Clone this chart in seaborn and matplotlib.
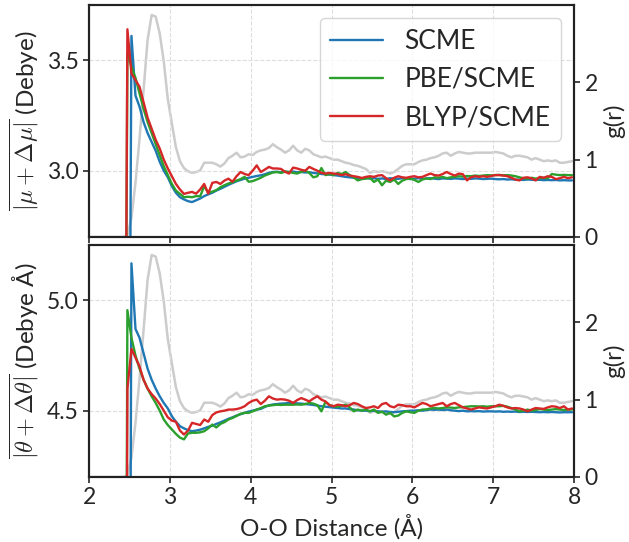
import numpy as np
import matplotlib
matplotlib.use("Agg")
import matplotlib.pyplot as plt
import seaborn as sns

# =========================
# DATA
# =========================

# O-O distance bin centres, 0.05 A bins from 2.0 to 8.0
r = np.arange(2.025, 8.0, 0.05)

# radial distribution function g(r)
g_r = [0.0, 0.0, 0.0, 0.0, 0.0, 0.0, 0.0, 0.0, 0.0, 0.02,
       0.25, 0.7, 1.27, 1.9, 2.55, 2.87, 2.85, 2.63, 2.27, 1.78,
       1.47, 1.16, 0.98, 0.89, 0.85, 0.83, 0.84, 0.86, 0.96, 0.96,
       0.96, 0.94, 0.91, 0.95, 1.02, 1.05, 1.09, 1.03, 1.04, 1.07,
       1.06, 1.10, 1.12, 1.13, 1.15, 1.20, 1.16, 1.13, 1.09, 1.12,
       1.18, 1.12, 1.09, 1.14, 1.12, 1.07, 1.05, 1.03, 1.04, 1.02,
       1.00, 1.00, 0.98, 0.96, 0.95, 0.93, 0.92, 0.90, 0.88, 0.83,
       0.85, 0.84, 0.85, 0.84, 0.82, 0.84, 0.88, 0.92, 0.94, 0.94,
       0.94, 0.97, 0.99, 1.00, 1.02, 1.03, 1.05, 1.08, 1.09, 1.05,
       1.08, 1.10, 1.09, 1.08, 1.08, 1.09, 1.09, 1.09, 1.09, 1.09,
       1.10, 1.09, 1.08, 1.05, 1.03, 1.05, 1.05, 1.04, 1.03, 1.00,
       1.02, 1.00, 0.98, 0.99, 0.98, 0.99, 0.96, 0.96, 0.97, 0.98]

# dipole |mu + dmu| (Debye)
mu_scme = [0.0, 0.0, 0.0, 0.0, 0.0, 0.0, 0.0, 0.0, 0.0, 0.0,
           3.61, 3.34, 3.29, 3.22, 3.17, 3.13, 3.09, 3.04, 3.00, 2.97,
           2.93, 2.90, 2.88, 2.87, 2.862, 2.858, 2.866, 2.874, 2.885, 2.893,
           2.900, 2.910, 2.918, 2.927, 2.936, 2.944, 2.952, 2.958, 2.964, 2.968,
           2.972, 2.976, 2.979, 2.984, 2.990, 2.994, 2.995, 2.993, 2.995, 2.994,
           2.996, 2.993, 2.994, 2.992, 2.993, 2.990, 2.988, 2.985, 2.984, 2.982,
           2.980, 2.978, 2.975, 2.972, 2.970, 2.968, 2.966, 2.965, 2.967, 2.964,
           2.966, 2.963, 2.965, 2.962, 2.966, 2.964, 2.963, 2.966, 2.965, 2.962,
           2.964, 2.966, 2.963, 2.965, 2.966, 2.964, 2.962, 2.965, 2.964, 2.963,
           2.965, 2.964, 2.962, 2.964, 2.963, 2.965, 2.964, 2.962, 2.963, 2.964,
           2.962, 2.961, 2.962, 2.960, 2.961, 2.959, 2.960, 2.958, 2.960, 2.959,
           2.958, 2.959, 2.957, 2.958, 2.957, 2.958, 2.956, 2.957, 2.956, 2.956]
mu_pbe = [0.0, 0.0, 0.0, 0.0, 0.0, 0.0, 0.0, 0.0, 0.0, 3.53,
          3.47, 3.42, 3.35, 3.28, 3.22, 3.17, 3.12, 3.07, 3.02, 2.98,
          2.94, 2.91, 2.895, 2.88, 2.882, 2.88, 2.885, 2.884, 2.93, 2.90,
          2.905, 2.912, 2.925, 2.934, 2.942, 2.948, 2.955, 2.962, 2.972, 2.950,
          2.953, 2.960, 2.968, 2.978, 2.985, 2.992, 2.994, 2.990, 2.996, 2.994,
          2.990, 2.987, 2.995, 3.000, 2.990, 2.970, 2.975, 3.012, 2.980, 2.985,
          2.980, 2.990, 2.985, 2.994, 2.980, 2.970, 2.956, 2.962, 2.964, 2.968,
          2.949, 2.960, 2.934, 2.955, 2.949, 2.960, 2.940, 2.955, 2.962, 2.964,
          2.958, 2.949, 2.960, 2.965, 2.962, 2.970, 2.968, 2.972, 2.966, 2.970,
          2.972, 2.975, 2.973, 2.976, 2.975, 2.978, 2.976, 2.978, 2.980, 2.979,
          2.980, 2.981, 2.979, 2.980, 2.978, 2.975, 2.970, 2.966, 2.964, 2.968,
          2.964, 2.966, 2.968, 2.965, 2.985, 2.982, 2.980, 2.981, 2.980, 2.980]
mu_blyp = [0.0, 0.0, 0.0, 0.0, 0.0, 0.0, 0.0, 0.0, 0.0, 3.64,
           3.44, 3.41, 3.38, 3.31, 3.24, 3.19, 3.14, 3.10, 3.05, 3.01,
           2.975, 2.94, 2.915, 2.895, 2.90, 2.904, 2.896, 2.915, 2.94, 2.896,
           2.945, 2.949, 2.940, 2.955, 2.964, 2.950, 2.975, 2.994, 2.985, 2.980,
           3.000, 3.024, 2.994, 3.005, 3.017, 3.010, 3.010, 3.008, 2.995, 2.987,
           3.014, 3.010, 3.004, 3.000, 3.017, 3.008, 3.000, 2.990, 2.987, 2.990,
           2.987, 2.985, 2.980, 2.984, 2.978, 2.975, 2.972, 2.967, 2.972, 2.975,
           2.972, 2.978, 2.980, 2.966, 2.956, 2.968, 2.975, 2.970, 2.968, 2.972,
           2.975, 2.970, 2.972, 2.980, 2.987, 2.980, 2.978, 2.985, 2.994, 2.985,
           2.978, 2.987, 2.984, 2.956, 2.970, 2.975, 2.972, 2.975, 2.972, 2.976,
           2.980, 2.980, 2.978, 2.975, 2.968, 2.960, 2.956, 2.968, 2.970, 2.965,
           2.956, 2.972, 2.968, 2.975, 2.972, 2.962, 2.966, 2.972, 2.966, 2.970]

# quadrupole |theta + dtheta| (Debye A)
th_scme = [0.0, 0.0, 0.0, 0.0, 0.0, 0.0, 0.0, 0.0, 0.0, 0.0,
           5.167, 4.87, 4.83, 4.76, 4.69, 4.64, 4.60, 4.565, 4.535, 4.51,
           4.475, 4.45, 4.43, 4.42, 4.412, 4.407, 4.41, 4.414, 4.42, 4.427,
           4.432, 4.44, 4.447, 4.455, 4.463, 4.47, 4.478, 4.484, 4.49, 4.496,
           4.50, 4.505, 4.508, 4.517, 4.524, 4.528, 4.53, 4.532, 4.533, 4.535,
           4.535, 4.533, 4.532, 4.53, 4.528, 4.526, 4.523, 4.52, 4.518, 4.516,
           4.514, 4.512, 4.51, 4.51, 4.507, 4.505, 4.502, 4.50, 4.50, 4.498,
           4.50, 4.497, 4.495, 4.497, 4.494, 4.493, 4.495, 4.497, 4.498, 4.50,
           4.50, 4.502, 4.50, 4.503, 4.505, 4.504, 4.505, 4.503, 4.505, 4.502,
           4.50, 4.498, 4.50, 4.497, 4.498, 4.497, 4.498, 4.496, 4.497, 4.497,
           4.496, 4.497, 4.495, 4.496, 4.495, 4.496, 4.494, 4.495, 4.494, 4.495,
           4.494, 4.493, 4.494, 4.493, 4.494, 4.493, 4.492, 4.493, 4.493, 4.493]
th_pbe = [0.0, 0.0, 0.0, 0.0, 0.0, 0.0, 0.0, 0.0, 0.0, 4.955,
          4.83, 4.75, 4.69, 4.64, 4.60, 4.565, 4.535, 4.50, 4.46, 4.435,
          4.415, 4.395, 4.378, 4.37, 4.397, 4.40, 4.40, 4.402, 4.407, 4.42,
          4.437, 4.424, 4.44, 4.448, 4.46, 4.467, 4.476, 4.486, 4.49, 4.49,
          4.497, 4.505, 4.512, 4.52, 4.523, 4.525, 4.527, 4.526, 4.527, 4.527,
          4.527, 4.528, 4.527, 4.53, 4.535, 4.532, 4.525, 4.497, 4.54, 4.525,
          4.52, 4.518, 4.522, 4.527, 4.515, 4.497, 4.505, 4.50, 4.505, 4.497,
          4.505, 4.49, 4.495, 4.482, 4.49, 4.474, 4.478, 4.49, 4.497, 4.493,
          4.49, 4.50, 4.505, 4.506, 4.51, 4.512, 4.51, 4.512, 4.515, 4.514,
          4.512, 4.515, 4.516, 4.518, 4.52, 4.52, 4.519, 4.52, 4.518, 4.52,
          4.52, 4.52, 4.522, 4.518, 4.512, 4.505, 4.497, 4.50, 4.505, 4.50,
          4.503, 4.507, 4.505, 4.503, 4.505, 4.507, 4.505, 4.503, 4.505, 4.505]
th_blyp = [0.0, 0.0, 0.0, 0.0, 0.0, 0.0, 0.0, 0.0, 0.0, 4.60,
           4.78, 4.74, 4.70, 4.64, 4.60, 4.575, 4.555, 4.53, 4.50, 4.47,
           4.455, 4.45, 4.41, 4.392, 4.41, 4.445, 4.44, 4.435, 4.46, 4.45,
           4.48, 4.492, 4.497, 4.50, 4.505, 4.505, 4.507, 4.512, 4.52, 4.535,
           4.545, 4.55, 4.53, 4.545, 4.565, 4.555, 4.55, 4.552, 4.55, 4.545,
           4.535, 4.548, 4.557, 4.55, 4.542, 4.555, 4.565, 4.55, 4.542, 4.525,
           4.52, 4.527, 4.525, 4.52, 4.525, 4.535, 4.53, 4.52, 4.512, 4.515,
           4.52, 4.512, 4.53, 4.535, 4.52, 4.515, 4.527, 4.525, 4.52, 4.52,
           4.515, 4.525, 4.535, 4.53, 4.52, 4.525, 4.53, 4.535, 4.52, 4.53,
           4.535, 4.525, 4.515, 4.51, 4.505, 4.51, 4.515, 4.512, 4.51, 4.515,
           4.52, 4.527, 4.522, 4.515, 4.51, 4.512, 4.51, 4.505, 4.497, 4.505,
           4.512, 4.51, 4.508, 4.515, 4.52, 4.518, 4.512, 4.52, 4.505, 4.51]

labels = ["SCME", "PBE/SCME", "BLYP/SCME"]
colors = ["#1f77b4", "#2ca02c", "#d62728"]

# =========================
# STYLE
# =========================

sns.set_style("ticks")
plt.rcParams['font.family'] = ['Lato', 'DejaVu Sans']
plt.rcParams['mathtext.fontset'] = 'cm'

fig, (ax1, ax2) = plt.subplots(2, 1, figsize=(6.29, 5.42), dpi=100, sharex=True)
fig.subplots_adjust(left=0.1415, right=0.9126, top=0.9908, bottom=0.12,
                    hspace=0.0345)


def draw_panel(ax, series, ylim, yticks, ylabel):
    twin = ax.twinx()
    sns.lineplot(x=r, y=g_r, ax=twin, color="#cccccc", lw=1.8)
    twin.set_ylim(0, 3.0)
    twin.set_yticks([0, 1, 2])
    twin.set_ylabel("g(r)", fontsize=17.5)
    twin.tick_params(labelsize=16.5, length=4, width=1.2)

    for vals, lab, col in zip(series, labels, colors):
        sns.lineplot(x=r, y=vals, ax=ax, color=col, lw=1.7, label=lab)
    ax.set_ylim(*ylim)
    ax.set_yticks(yticks)
    ax.set_ylabel(ylabel, fontsize=17.5)
    ax.tick_params(labelsize=16.5, length=4, width=1.2)
    ax.grid(True, ls="--", lw=0.8, color="#dddddd")

    # coloured lines above the g(r) curve
    ax.set_zorder(twin.get_zorder() + 1)
    ax.patch.set_visible(False)
    for a in (ax, twin):
        for s in a.spines.values():
            s.set_linewidth(1.5)
            s.set_color("#222222")
    return twin


draw_panel(ax1, [mu_scme, mu_pbe, mu_blyp], (2.7, 3.75), [3.0, 3.5],
           r"$\overline{|\mu + \Delta\mu|}$ (Debye)")
draw_panel(ax2, [th_scme, th_pbe, th_blyp], (4.2, 5.25), [4.5, 5.0],
           r"$\overline{|\theta + \Delta\theta|}$ (Debye Å)")

ax1.legend(loc="upper right", fontsize=19, handlelength=2.0, fancybox=True)
ax2.get_legend().remove()

ax2.set_xlim(2, 8)
ax2.set_xticks([2, 3, 4, 5, 6, 7, 8])
ax2.set_xlabel("O-O Distance (Å)", fontsize=17.5)

plt.savefig("out.png", dpi=100)
